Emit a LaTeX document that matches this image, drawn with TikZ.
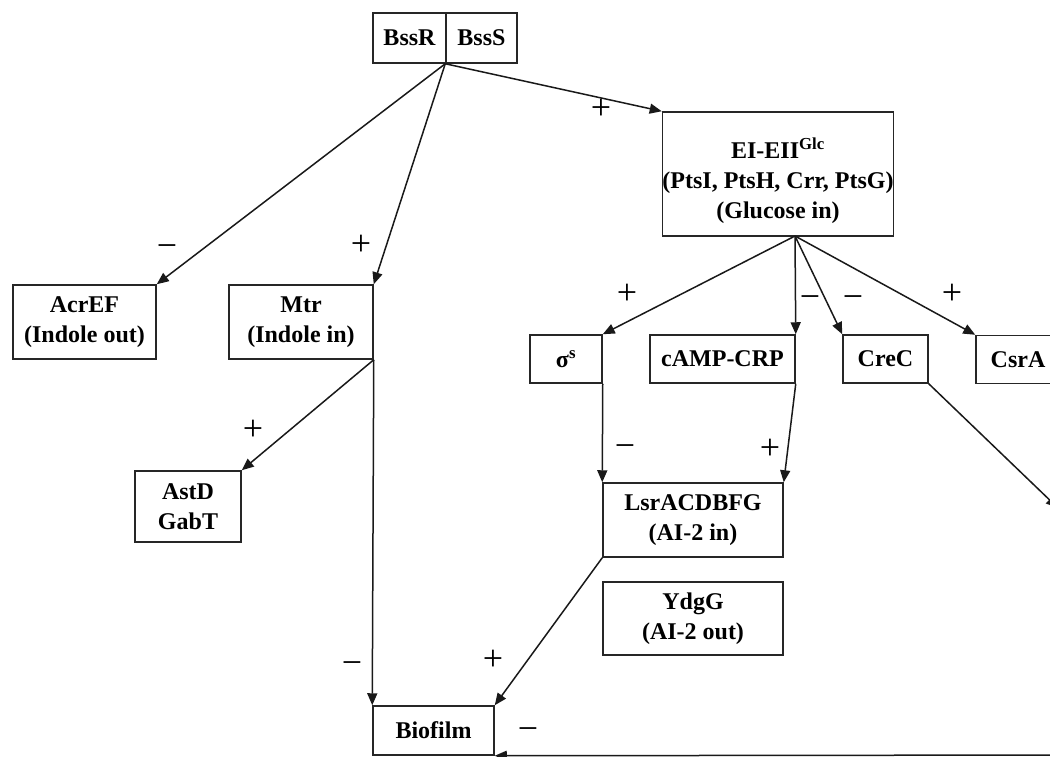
\documentclass[tikz,border=0pt]{standalone}
\usepackage{fontspec}
\setmainfont{Liberation Serif}
\usetikzlibrary{arrows.meta}

\begin{document}
\begin{tikzpicture}[x=1pt, y=-1pt,
    box/.style={draw=black!85, line width=1.5pt, align=center, inner sep=0pt, font=\fontsize{24}{30}\selectfont\bfseries},
    sign/.style={font=\fontsize{36}{36}\selectfont, text height=0.5em, text depth=0pt, inner sep=0pt},
    arrow/.style={-{Triangle[length=12pt,width=10pt]}, line width=1.5pt, black!90},
    link/.style={line width=1.5pt, black!90}
]
    \useasboundingbox (0,0) rectangle (1050,756);

    % Sensor pair at the top.
    \node[box, minimum width=73pt, minimum height=50pt] (bssr) at (409.5, 38) {BssR};
    \node[box, minimum width=71pt, minimum height=50pt] (bsss) at (481.5, 38) {BssS};

    % Indole transport and glucose uptake.
    \node[box, minimum width=143pt, minimum height=74pt] (acref) at (84.5, 322) {AcrEF\\(Indole out)};
    \node[box, minimum width=144pt, minimum height=74pt] (mtr) at (301, 322) {Mtr\\(Indole in)};
    \node[box, minimum width=106pt, minimum height=71pt] (astd) at (188, 506.5) {AstD\\GabT};
    \node[box, minimum width=230pt, minimum height=124pt] (ei) at (778, 174) {\rule{0pt}{34pt}EI-EII\textsuperscript{Glc}\\(PtsI, PtsH, Crr, PtsG)\\(Glucose in)};

    % Regulators under the glucose system.
    \node[box, minimum width=72pt, minimum height=48pt] (sigma) at (566, 359) {σ\textsuperscript{s}};
    \node[box, minimum width=145pt, minimum height=48pt] (camp) at (722.5, 359) {cAMP-CRP};
    \node[box, minimum width=85pt, minimum height=48pt] (crec) at (885.5, 359) {CreC};
    \node[box, minimum width=84pt, minimum height=48pt] (csra) at (1018, 359.5) {CsrA};

    % AI-2 transport and biofilm.
    \node[box, minimum width=180pt, minimum height=74pt] (lsr) at (693, 520) {LsrACDBFG\\(AI-2 in)};
    \node[box, minimum width=180pt, minimum height=73pt] (ydgg) at (693, 618.5) {YdgG\\(AI-2 out)};
    \node[box, minimum width=121pt, minimum height=49pt] (biofilm) at (433.5, 730.5) {Biofilm};

    \coordinate (eiout) at (795, 236);
    \coordinate (offright) at (1058, 508);
    \coordinate (offbottom) at (1080, 755);

    % Connectors.
    \draw[arrow] (bsss.south west) -- (acref.north east);
    \draw[arrow] (bsss.south west) -- (mtr.north east);
    \draw[arrow] (bsss.south west) -- (ei.north west);
    \draw[arrow] (mtr.south east) -- (astd.north east);
    \draw[arrow] (mtr.south east) -- (biofilm.north west);
    \draw[arrow] (eiout) -- (sigma.north east);
    \draw[arrow] (eiout) -- (camp.north east);
    \draw[arrow] (eiout) -- (crec.north west);
    \draw[arrow] (eiout) -- (csra.north west);
    \draw[arrow] (sigma.south east) -- (lsr.north west);
    \draw[arrow] (camp.south east) -- (lsr.north east);
    \draw[arrow] (lsr.south west) -- (biofilm.north east);
    \draw[arrow] (crec.south east) -- (offright);
    \draw[arrow] (offbottom) -- (biofilm.south east);

    % Signs of the interactions.
    \node[sign] (s-acref) at (167, 255) {−};
    \node[sign] (s-mtr) at (361, 253) {+};
    \node[sign] (s-ei) at (601, 117) {+};
    \node[sign] (s-astd) at (253, 438) {+};
    \node[sign] (s-sigma) at (627, 302) {+};
    \node[sign] (s-camp) at (810, 306) {−};
    \node[sign] (s-crec) at (853, 306) {−};
    \node[sign] (s-csra) at (952, 302) {+};
    \node[sign] (s-lsrl) at (625, 455) {−};
    \node[sign] (s-lsrr) at (770, 457) {+};
    \node[sign] (s-biol) at (352, 672) {−};
    \node[sign] (s-bior) at (493, 668) {+};
    \node[sign] (s-bottom) at (528, 738) {−};
\end{tikzpicture}
\end{document}
